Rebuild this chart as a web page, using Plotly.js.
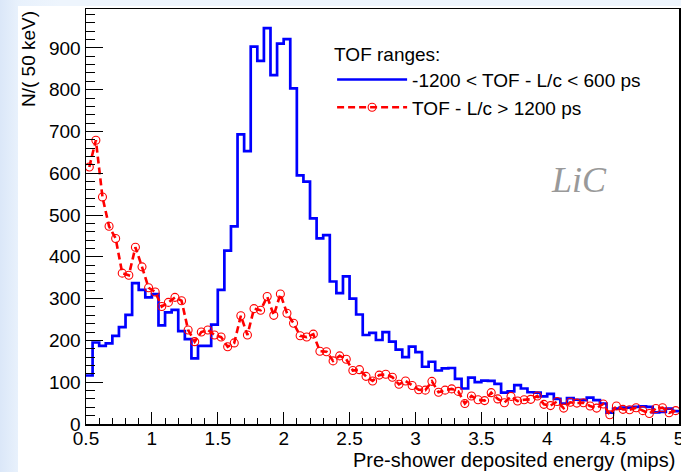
<!DOCTYPE html>
<html>
<head>
<meta charset="utf-8">
<script src="https://cdn.plot.ly/plotly-3.0.1.min.js"></script>
<style>
  html, body { margin: 0; padding: 0; width: 681px; height: 472px; overflow: hidden; }
  body { background: linear-gradient(to right, #dbe7f8 0px, #e8f1fc 18px, #eef5fd 60px); position: relative; }
  #paper { position: absolute; left: 18px; top: 6px; right: 0; bottom: 0; background: #ffffff; }
  #chart { position: absolute; left: 0; top: 0; width: 681px; height: 472px; }
</style>
</head>
<body>
<div id="paper"></div>
<div id="chart"></div>
<script>
// Histogram binning (mips)
const binLow = 0.5;
const binWidth = 0.05;

// -1200 < TOF - L/c < 600 ps  (blue histogram, counts per 50 keV bin)
const blueCounts = [
  116, 195, 187, 193, 211, 232, 261, 337, 321, 303,
  311, 236, 267, 273, 222, 203, 157, 187, 187, 238,
  321, 415, 473, 693, 653, 903, 869, 947, 835, 910,
  921, 803, 595, 580, 492, 444, 452, 341, 313, 353,
  300, 262, 213, 218, 201, 220, 197, 178, 160, 185,
  172, 137, 149, 128, 133, 134, 108, 85, 111, 100,
  104, 103, 96, 75, 78, 93, 85, 76, 75, 66,
  72, 60, 49, 62, 58, 57, 63, 57, 49, 27,
  37, 39, 39, 41, 42, 41, 28, 29, 37, 31
];

// TOF - L/c > 1200 ps  (red points)
const redCounts = [
  615, 679, 543, 473, 444, 361, 356, 423, 376, 326,
  316, 281, 291, 303, 295, 225, 197, 220, 225, 213,
  208, 185, 194, 259, 213, 276, 272, 305, 260, 311,
  265, 241, 211, 208, 215, 174, 173, 151, 163, 155,
  128, 130, 114, 103, 117, 119, 112, 95, 103, 92,
  82, 81, 102, 76, 81, 84, 78, 49, 67, 58,
  56, 75, 60, 51, 66, 55, 58, 59, 67, 47,
  44, 54, 38, 52, 50, 51, 43, 38, 48, 22,
  43, 35, 34, 39, 32, 25, 37, 39, 27, 32
];

const seriesNames = ['-1200 < TOF - L/c < 600 ps', 'TOF - L/c > 1200 ps'];
const legendHeader = 'TOF ranges:';
const xTitle = 'Pre-shower deposited energy (mips)';
const yTitle = 'N/( 50 keV)';
const tagText = 'LiC';

// Build step outline for the histogram (bin low edges + final upper edge)
const blueX = blueCounts.map((_, i) => binLow + binWidth * i);
blueX.push(binLow + binWidth * blueCounts.length);
const blueY = blueCounts.slice();
blueY.push(blueCounts[blueCounts.length - 1]);

const redX = redCounts.map((_, i) => binLow + binWidth * (i + 0.5));

const FONT = 'Liberation Sans, Arial, Helvetica, sans-serif';

const traces = [
  {
    type: 'scatter', mode: 'lines', name: seriesNames[0],
    x: blueX, y: blueY,
    line: { shape: 'hv', color: '#0000ff', width: 2.7 },
    hoverinfo: 'skip'
  },
  {
    type: 'scatter', mode: 'lines+markers', name: seriesNames[1],
    x: redX, y: redCounts,
    line: { color: '#ff0000', width: 2.6, dash: '7px,4px' },
    marker: { symbol: 'circle-open', size: 8, color: '#ff0000', line: { width: 1.1, color: '#ff0000' } },
    hoverinfo: 'skip'
  }
];

const layout = {
  width: 681, height: 472,
  margin: { l: 86, r: 2, t: 9, b: 48 },
  paper_bgcolor: 'rgba(0,0,0,0)',
  plot_bgcolor: '#ffffff',
  font: { family: FONT, size: 19, color: '#000000' },
  showlegend: true,
  legend: {
    x: 0.415, y: 0.935, xanchor: 'left', yanchor: 'top',
    bgcolor: 'rgba(255,255,255,0)', borderwidth: 0,
    font: { family: FONT, size: 19, color: '#000000' },
    title: { text: legendHeader, font: { family: FONT, size: 19, color: '#000000' } },
    itemwidth: 70, tracegroupgap: 0
  },
  xaxis: {
    range: [0.5, 5.0], autorange: false,
    tick0: 0.5, dtick: 0.5,
    ticks: 'inside', ticklen: 12, tickwidth: 1, tickcolor: '#000000',
    minor: { dtick: 0.1, ticks: 'inside', ticklen: 6, tickwidth: 1, tickcolor: '#000000' },
    showline: true, linecolor: '#000000', linewidth: 1.5, mirror: true,
    showgrid: false, zeroline: false,
    ticklabeloverflow: 'allow',
    ticklabelstandoff: -3,
    tickfont: { family: FONT, size: 19, color: '#000000' },
    automargin: false
  },
  yaxis: {
    range: [0, 993], autorange: false,
    tick0: 0, dtick: 100,
    ticks: 'inside', ticklen: 17, tickwidth: 1, tickcolor: '#000000',
    minor: { dtick: 20, ticks: 'inside', ticklen: 9, tickwidth: 1, tickcolor: '#000000' },
    showline: true, linecolor: '#000000', linewidth: 1.5, mirror: true,
    showgrid: false, zeroline: false,
    ticklabeloverflow: 'allow',
    tickfont: { family: FONT, size: 19, color: '#000000' },
    automargin: false
  },
  annotations: [
    {
      text: xTitle, xref: 'paper', yref: 'paper', x: 1, y: 0,
      xanchor: 'right', yanchor: 'bottom', xshift: -3, yshift: -48,
      borderpad: 0,
      showarrow: false, font: { family: FONT, size: 20, color: '#000000' }
    },
    {
      text: yTitle, xref: 'paper', yref: 'paper', x: 0, y: 1,
      xanchor: 'center', yanchor: 'top', xshift: -58, yshift: 0,
      textangle: -90, showarrow: false, font: { family: FONT, size: 19, color: '#000000' }
    },
    {
      text: '<i>' + tagText + '</i>', xref: 'paper', yref: 'paper', x: 0.831, y: 0.588,
      xanchor: 'center', yanchor: 'middle', showarrow: false,
      font: { family: 'Liberation Serif, Times New Roman, serif', size: 36, color: '#999999' }
    }
  ]
};

Plotly.newPlot('chart', traces, layout, { staticPlot: true, displayModeBar: false });
</script>
</body>
</html>
